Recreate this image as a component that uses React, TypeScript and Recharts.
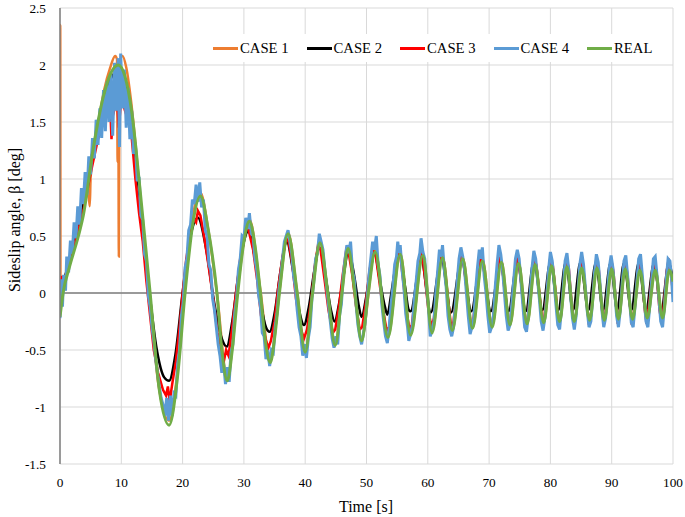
import React from 'react';
import { LineChart, Line, XAxis, YAxis, CartesianGrid, ReferenceLine, Legend, Label } from 'recharts';

const FONT = 'Liberation Serif';

const xTicks = [0, 10, 20, 30, 40, 50, 60, 70, 80, 90, 100];
const yTicks = [-1.5, -1, -0.5, 0, 0.5, 1, 1.5, 2, 2.5];

// [time s, sideslip deg]
const case1: [number, number][] = [
  [0, 0], [0.04, 2.35], [0.08, -0.1], [0.4, 0.05], [1.5, 0.25], [3.0, 0.55], [4.5, 0.95], [4.85, 0.76], [5.0, 1.02],
  [6.0, 1.4], [7.2, 1.78], [8.2, 1.98], [9.0, 2.08], [9.3, 2.05], [9.4, 1.15], [9.5, 2.0], [9.6, 0.32], [9.7, 2.02],
  [10.2, 2.08], [10.8, 1.98], [11.6, 1.68], [12.5, 1.2], [13.5, 0.6], [14.6, 0], [16.0, -0.78], [17.8, -1.12],
  [19.3, -0.62], [20.4, 0.05], [21.6, 0.65], [22.9, 0.88], [24.2, 0.55], [25.6, 0], [27.3, -0.75], [29.0, 0.05],
  [30.9, 0.65], [32.7, 0.02], [34.3, -0.6], [35.8, 0.02], [37.2, 0.53], [38.7, 0], [40.0, -0.5], [41.2, 0.02],
  [42.4, 0.45], [43.7, 0], [44.9, -0.45], [46.0, 0.02], [47.0, 0.4], [48.1, 0], [49.2, -0.4], [51.4, 0.37],
  [53.5, -0.38], [55.5, 0.35], [57.2, -0.36], [59.2, 0.34], [60.7, -0.34], [62.4, 0.32], [64.0, -0.32], [65.7, 0.31],
  [67.3, -0.3], [68.9, 0.3], [70.5, -0.29], [72.0, 0.28], [73.4, -0.28], [74.8, 0.27], [76.2, -0.27], [77.5, 0.26],
  [78.9, -0.26], [80.2, 0.25], [81.5, -0.25], [82.7, 0.24], [83.9, -0.25], [85.1, 0.23], [86.4, -0.24], [87.6, 0.23],
  [88.8, -0.24], [90.0, 0.22], [91.1, -0.23], [92.2, 0.22], [93.4, -0.23], [94.6, 0.21], [95.8, -0.22], [97.1, 0.21],
  [98.3, -0.22], [99.4, 0.21], [100, 0.1],
];

const case2: [number, number][] = [
  [0, -0.05], [0.2, 0.08], [0.5, 0.1], [1.5, 0.28], [3.0, 0.6], [5.0, 1.15], [7.0, 1.68], [8.5, 1.9], [9.5, 1.95],
  [10.5, 1.88], [11.5, 1.6], [12.5, 1.1], [14.2, 0.2], [15.8, -0.5], [17.0, -0.74], [17.8, -0.77], [18.8, -0.55], [20.0, 0],
  [21.3, 0.5], [22.5, 0.66], [23.8, 0.4], [25.2, -0.1], [26.4, -0.4], [27.2, -0.47], [28.1, -0.25], [29.0, 0.12],
  [30.0, 0.45], [30.8, 0.55], [31.8, 0.3], [32.8, -0.1], [33.6, -0.3], [34.2, -0.34], [35.0, -0.18], [36.0, 0.2],
  [37.0, 0.45], [38.0, 0.2], [39.0, -0.15], [39.8, -0.28], [40.6, -0.12], [41.5, 0.2], [42.3, 0.4], [43.3, 0.15],
  [44.2, -0.15], [44.8, -0.25], [45.5, -0.1], [46.4, 0.2], [47.0, 0.37], [48.0, 0.15], [48.7, -0.1], [49.2, -0.21],
  [49.9, -0.05], [50.7, 0.22], [51.3, 0.35], [52.2, 0.1], [53.0, -0.12], [53.4, -0.19], [54.0, -0.02], [54.8, 0.25],
  [55.4, 0.33], [56.3, 0.05], [56.9, -0.15], [57.2, -0.16], [58.9, 0.3], [60.5, -0.17], [62.2, 0.3], [63.8, -0.17],
  [65.5, 0.3], [67.1, -0.16], [68.7, 0.29], [70.3, -0.16], [71.8, 0.28], [73.2, -0.16], [74.6, 0.28], [76.0, -0.16],
  [77.3, 0.28], [78.7, -0.15], [80.0, 0.27], [81.3, -0.15], [82.5, 0.27], [83.7, -0.15], [84.9, 0.27], [86.2, -0.15],
  [87.4, 0.26], [88.6, -0.15], [89.8, 0.26], [90.9, -0.15], [92.0, 0.26], [93.2, -0.15], [94.4, 0.26], [95.6, -0.15],
  [96.9, 0.26], [98.1, -0.15], [99.3, 0.26], [100, 0.1],
];

const case3: [number, number][] = [
  [0, -0.05], [0.3, 0.15], [0.6, 0.05], [1.2, 0.22], [2.5, 0.45], [3.8, 0.72], [5.0, 1.05], [6.2, 1.35], [7.4, 1.6],
  [8.2, 1.62], [8.4, 1.35], [8.6, 1.55], [9.3, 1.7], [9.6, 1.45], [10.0, 1.72], [10.6, 1.6], [11.2, 1.5], [11.7, 1.36],
  [12.3, 1.0], [12.9, 0.7], [13.5, 0.45], [14.1, 0.1], [14.6, -0.15], [15.3, -0.5], [16.0, -0.7], [16.8, -0.85],
  [17.3, -0.9], [17.6, -0.82], [17.9, -0.95], [18.3, -0.8], [18.9, -0.6], [19.5, -0.3], [20.0, 0], [20.6, 0.3],
  [21.2, 0.5], [21.8, 0.65], [22.2, 0.62], [22.5, 0.72], [22.9, 0.68], [23.5, 0.5], [24.2, 0.25], [25.0, -0.05],
  [25.7, -0.35], [26.4, -0.52], [26.8, -0.58], [27.1, -0.5], [27.5, -0.55], [28.1, -0.3], [28.7, 0], [29.4, 0.3],
  [30.1, 0.5], [30.5, 0.6], [30.9, 0.52], [31.5, 0.38], [32.2, 0.1], [32.8, -0.2], [33.5, -0.4], [34.0, -0.48],
  [34.4, -0.42], [35.0, -0.25], [35.6, 0.05], [36.3, 0.32], [36.9, 0.48], [37.3, 0.45], [37.9, 0.25], [38.5, -0.05],
  [39.2, -0.3], [39.8, -0.4], [40.3, -0.32], [41.0, -0.05], [41.6, 0.25], [42.1, 0.42], [42.5, 0.38], [43.2, 0.1],
  [43.8, -0.15], [44.5, -0.35], [44.9, -0.32], [45.5, -0.12], [46.1, 0.15], [46.7, 0.38], [47.1, 0.35], [47.7, 0.15],
  [48.3, -0.12], [48.9, -0.32], [49.3, -0.3], [49.9, -0.08], [50.5, 0.2], [51.1, 0.37], [51.5, 0.33], [52.1, 0.1],
  [52.7, -0.15], [53.3, -0.33], [53.7, -0.3], [54.4, 0], [55.0, 0.3], [55.4, 0.38], [55.9, 0.15], [56.5, -0.15],
  [57.0, -0.32], [57.4, -0.28], [58.0, 0], [58.6, 0.3], [59.0, 0.38], [59.5, 0.15], [60.1, -0.15], [60.6, -0.3],
  [61.0, -0.22], [61.6, 0.1], [62.2, 0.36], [62.6, 0.28], [63.2, 0], [63.8, -0.3], [64.2, -0.25], [64.8, 0.05],
  [65.4, 0.33], [65.8, 0.28], [66.4, 0], [67.0, -0.28], [67.4, -0.25], [68.0, 0.05], [68.6, 0.32], [69.0, 0.28],
  [69.6, 0], [70.2, -0.3], [70.6, -0.24], [71.2, 0.08], [71.7, 0.32], [72.1, 0.25], [72.6, -0.02], [73.1, -0.28],
  [73.5, -0.22], [74.0, 0.05], [74.5, 0.32], [74.9, 0.25], [75.4, 0], [75.9, -0.3], [76.3, -0.22], [76.8, 0.05],
  [77.3, 0.3], [77.7, 0.25], [78.2, 0], [78.7, -0.28], [79.0, -0.22], [79.5, 0.05], [80.0, 0.32], [80.4, 0.24],
  [80.9, -0.02], [81.3, -0.28], [81.7, -0.2], [82.2, 0.08], [82.6, 0.3], [83.0, 0.22], [83.4, -0.05], [83.8, -0.28],
  [84.2, -0.18], [84.6, 0.08], [85.0, 0.3], [85.4, 0.2], [85.9, -0.08], [86.3, -0.28], [86.7, -0.15], [87.1, 0.1],
  [87.5, 0.3], [87.9, 0.2], [88.3, -0.08], [88.7, -0.28], [89.1, -0.12], [89.5, 0.12], [89.9, 0.3], [90.3, 0.18],
  [90.7, -0.1], [91.0, -0.27], [91.4, -0.12], [91.8, 0.12], [92.2, 0.3], [92.6, 0.15], [93.0, -0.12], [93.3, -0.28],
  [93.8, -0.1], [94.2, 0.15], [94.6, 0.3], [95.0, 0.12], [95.4, -0.15], [95.7, -0.27], [96.2, -0.05], [96.6, 0.18],
  [97.0, 0.3], [97.4, 0.12], [97.8, -0.15], [98.2, -0.27], [98.6, -0.05], [99.0, 0.2], [99.3, 0.3], [99.7, 0.15],
  [100, 0],
];

const case4: [number, number][] = [
  [0, -0.22], [0.2, 0.12], [0.4, -0.12], [0.6, 0.16], [0.9, 0.02], [1.1, 0.32], [1.4, 0.18], [1.7, 0.46], [2.0, 0.34],
  [2.3, 0.62], [2.6, 0.48], [2.9, 0.76], [3.2, 0.6], [3.5, 0.92], [3.8, 0.78], [4.1, 1.06], [4.4, 0.86], [4.7, 1.2],
  [5.0, 1.04], [5.3, 1.36], [5.6, 1.18], [5.9, 1.52], [6.2, 1.3], [6.5, 1.62], [6.8, 1.36], [7.1, 1.78], [7.4, 1.42],
  [7.7, 1.86], [8.0, 1.5], [8.3, 1.92], [8.6, 1.38], [8.9, 2.02], [9.2, 1.6], [9.5, 2.06], [9.7, 1.28], [9.9, 2.1],
  [10.2, 1.62], [10.5, 1.96], [10.8, 1.45], [11.1, 1.8], [11.4, 1.35], [11.7, 1.6], [12.0, 1.22], [12.3, 1.32],
  [12.6, 0.98], [12.9, 1.02], [13.2, 0.68], [13.5, 0.64], [13.8, 0.34], [14.1, 0.28], [14.4, -0.02], [14.7, -0.12],
  [15.0, -0.3], [15.3, -0.42], [15.6, -0.58], [15.9, -0.7], [16.2, -0.82], [16.5, -0.92], [16.8, -0.98], [17.1, -1.08],
  [17.4, -0.92], [17.7, -1.12], [18.0, -0.9], [18.3, -1.08], [18.6, -0.88], [18.9, -0.9], [19.2, -0.62], [19.5, -0.5],
  [19.8, -0.2], [20.1, -0.08], [20.4, 0.22], [20.7, 0.3], [21.0, 0.55], [21.3, 0.6], [21.6, 0.82], [21.9, 0.78],
  [22.2, 0.95], [22.5, 0.8], [22.8, 0.97], [23.1, 0.75], [23.4, 0.82], [23.7, 0.55], [24.0, 0.5], [24.3, 0.25],
  [24.6, 0.2], [24.9, -0.05], [25.2, -0.15], [25.5, -0.3], [25.8, -0.45], [26.1, -0.55], [26.4, -0.7], [26.7, -0.62],
  [27.0, -0.8], [27.3, -0.65], [27.6, -0.78], [27.9, -0.52], [28.2, -0.45], [28.5, -0.18], [28.8, -0.05], [29.1, 0.2],
  [29.4, 0.3], [29.7, 0.5], [30.0, 0.48], [30.3, 0.66], [30.6, 0.56], [30.9, 0.7], [31.2, 0.52], [31.5, 0.5],
  [31.8, 0.3], [32.1, 0.2], [32.4, -0.02], [32.7, -0.12], [33.0, -0.35], [33.3, -0.38], [33.6, -0.58], [33.9, -0.5],
  [34.2, -0.64], [34.5, -0.5], [34.8, -0.52], [35.1, -0.3], [35.4, -0.18], [35.7, 0.02], [36.0, 0.15], [36.3, 0.3],
  [36.6, 0.45], [36.9, 0.5], [37.2, 0.55], [37.5, 0.45], [37.8, 0.35], [38.1, 0.15], [38.4, 0.05], [38.7, -0.15],
  [39.0, -0.3], [39.3, -0.38], [39.6, -0.55], [39.9, -0.45], [40.2, -0.57], [40.5, -0.4], [40.8, -0.3], [41.1, -0.05],
  [41.4, 0.1], [41.7, 0.3], [42.0, 0.35], [42.3, 0.52], [42.6, 0.45], [42.9, 0.38], [43.2, 0.2], [43.5, 0.05],
  [43.8, -0.1], [44.1, -0.25], [44.4, -0.4], [44.7, -0.48], [45.0, -0.38], [45.3, -0.45], [45.6, -0.2], [45.9, -0.1],
  [46.2, 0.15], [46.5, 0.3], [46.8, 0.42], [47.1, 0.35], [47.4, 0.45], [47.7, 0.2], [48.0, 0.12], [48.3, -0.1],
  [48.6, -0.28], [48.9, -0.38], [49.2, -0.45], [49.5, -0.35], [49.8, -0.25], [50.1, -0.05], [50.4, 0.15], [50.7, 0.3],
  [51.0, 0.45], [51.3, 0.38], [51.6, 0.5], [51.9, 0.25], [52.2, 0.15], [52.5, -0.1], [52.8, -0.25], [53.1, -0.38],
  [53.4, -0.44], [53.7, -0.3], [54.0, -0.1], [54.3, 0.05], [54.6, 0.25], [54.9, 0.32], [55.1, 0.45], [55.3, 0.35],
  [55.5, 0.42], [55.8, 0.2], [56.1, 0.05], [56.4, -0.18], [56.7, -0.3], [56.9, -0.42], [57.2, -0.36], [57.5, -0.28],
  [57.8, -0.05], [58.1, 0.1], [58.4, 0.28], [58.7, 0.35], [58.9, 0.48], [59.2, 0.36], [59.5, 0.3], [59.8, 0.05],
  [60.1, -0.12], [60.4, -0.38], [60.7, -0.32], [61.0, -0.25], [61.3, 0], [61.6, 0.18], [61.9, 0.38], [62.2, 0.32],
  [62.4, 0.42], [62.7, 0.2], [63.0, 0.05], [63.3, -0.2], [63.6, -0.32], [63.9, -0.38], [64.2, -0.3], [64.5, -0.1],
  [64.8, 0.1], [65.1, 0.3], [65.4, 0.4], [65.7, 0.32], [66.0, 0.2], [66.3, 0], [66.6, -0.2], [66.9, -0.36],
  [67.2, -0.3], [67.5, -0.22], [67.8, 0.02], [68.1, 0.22], [68.4, 0.38], [68.7, 0.3], [68.9, 0.4], [69.2, 0.15],
  [69.5, 0], [69.8, -0.2], [70.1, -0.35], [70.4, -0.3], [70.7, -0.2], [71.0, 0.05], [71.3, 0.25], [71.6, 0.42],
  [71.9, 0.34], [72.2, 0.2], [72.5, 0], [72.8, -0.2], [73.1, -0.33], [73.4, -0.28], [73.7, -0.1], [74.0, 0.1],
  [74.3, 0.3], [74.6, 0.38], [74.9, 0.3], [75.2, 0.1], [75.5, -0.1], [75.8, -0.3], [76.1, -0.34], [76.4, -0.2],
  [76.7, 0], [77.0, 0.22], [77.3, 0.37], [77.6, 0.3], [77.9, 0.12], [78.2, -0.05], [78.5, -0.25], [78.8, -0.33],
  [79.1, -0.22], [79.4, -0.02], [79.7, 0.2], [80.0, 0.36], [80.3, 0.28], [80.6, 0.1], [80.9, -0.1], [81.2, -0.28],
  [81.5, -0.32], [81.8, -0.15], [82.1, 0.05], [82.4, 0.28], [82.7, 0.35], [83.0, 0.2], [83.3, -0.02], [83.6, -0.22],
  [83.9, -0.32], [84.2, -0.2], [84.5, 0.02], [84.8, 0.25], [85.1, 0.36], [85.4, 0.25], [85.7, 0.05], [86.0, -0.15],
  [86.3, -0.3], [86.6, -0.25], [86.9, -0.05], [87.2, 0.18], [87.5, 0.34], [87.8, 0.27], [88.1, 0.08], [88.4, -0.15],
  [88.7, -0.3], [89.0, -0.22], [89.3, 0], [89.6, 0.22], [89.9, 0.33], [90.2, 0.22], [90.5, 0.02], [90.8, -0.2],
  [91.1, -0.3], [91.4, -0.15], [91.7, 0.08], [92.0, 0.28], [92.3, 0.33], [92.6, 0.15], [92.9, -0.05], [93.2, -0.26],
  [93.5, -0.3], [93.8, -0.12], [94.1, 0.1], [94.4, 0.3], [94.7, 0.34], [95.0, 0.15], [95.3, -0.05], [95.6, -0.25],
  [95.9, -0.3], [96.2, -0.12], [96.5, 0.1], [96.8, 0.3], [97.1, 0.32], [97.4, 0.15], [97.7, -0.05], [98.0, -0.25],
  [98.3, -0.3], [98.6, -0.12], [98.9, 0.12], [99.2, 0.3], [99.5, 0.28], [99.8, 0.1], [100, -0.08],
];

const real: [number, number][] = [
  [0, -0.21], [0.5, 0], [1.5, 0.22], [3.0, 0.5], [3.8, 0.68], [5.4, 1.26], [7.1, 1.73], [8.3, 1.93], [9.5, 2.0],
  [10.6, 1.9], [11.7, 1.59], [13.0, 0.94], [14.7, 0], [16.2, -0.85], [17.8, -1.16], [19.2, -0.72], [20.4, 0],
  [21.7, 0.62], [22.9, 0.85], [24.2, 0.55], [25.6, 0], [26.4, -0.5], [27.3, -0.77], [28.1, -0.5], [29.0, 0],
  [30.0, 0.45], [30.9, 0.63], [31.8, 0.42], [32.7, 0], [33.5, -0.42], [34.3, -0.61], [35.0, -0.4], [35.8, 0],
  [37.2, 0.52], [38.7, 0], [40.0, -0.52], [41.2, 0], [42.4, 0.44], [43.7, 0], [44.9, -0.46], [46.0, 0], [47.0, 0.39],
  [48.1, 0], [49.2, -0.42], [50.3, 0], [51.4, 0.36], [53.5, -0.39], [55.5, 0.34], [57.2, -0.37], [59.2, 0.33],
  [60.7, -0.35], [62.4, 0.31], [64.0, -0.33], [65.7, 0.3], [67.3, -0.31], [68.9, 0.28], [70.5, -0.3], [72.0, 0.27],
  [73.4, -0.28], [74.8, 0.26], [76.2, -0.27], [77.5, 0.25], [78.9, -0.26], [80.2, 0.24], [81.5, -0.25], [82.7, 0.23],
  [83.9, -0.25], [85.1, 0.22], [86.4, -0.24], [87.6, 0.22], [88.8, -0.24], [90.0, 0.21], [91.1, -0.23], [92.2, 0.21],
  [93.4, -0.23], [94.6, 0.2], [95.8, -0.22], [97.1, 0.2], [98.3, -0.22], [99.4, 0.2], [100, 0.1],
];

const series = [
  { name: 'CASE 1', color: '#ED7D31', pts: case1, curve: 'monotone', width: 2.5 },
  { name: 'CASE 2', color: '#000000', pts: case2, curve: 'monotone', width: 2.5 },
  { name: 'CASE 3', color: '#FF0000', pts: case3, curve: 'linear', width: 2.5 },
  { name: 'CASE 4', color: '#5B9BD5', pts: case4, curve: 'linear', width: 3 },
  { name: 'REAL', color: '#70AD47', pts: real, curve: 'monotone', width: 3 },
];

const toRows = (pts: [number, number][]) => pts.map(([t, v]) => ({ t, v }));

const renderLegend = () => (
  <div style={{ background: '#fff', height: 28, display: 'flex', alignItems: 'center', paddingLeft: 8, fontFamily: FONT, fontSize: 14.7, color: '#000' }}>
    {series.map((s) => (
      <div key={s.name} style={{ width: 93.5, display: 'flex', alignItems: 'center', flexShrink: 0 }}>
        <span style={{ display: 'inline-block', width: 25, height: 3, background: s.color, marginRight: 2 }} />
        <span style={{ fontFamily: FONT }}>{s.name}</span>
      </div>
    ))}
  </div>
);

export default function App() {
  const tickStyle = { fill: '#000', fontSize: 13.3, fontFamily: FONT };
  return (
    <div style={{ position: 'absolute', left: 0, top: 0, width: 685, height: 517, background: '#fff', fontFamily: FONT }}>
      <LineChart width={685} height={517} margin={{ top: 8, right: 12, left: 0, bottom: 0 }} style={{ fontFamily: FONT }}>
        <CartesianGrid stroke="#d9d9d9" strokeWidth={1} />
        <XAxis
          dataKey="t"
          type="number"
          domain={[0, 100]}
          ticks={xTicks}
          axisLine={false}
          tickLine={false}
          tick={tickStyle}
          tickMargin={8}
          height={53}
          allowDataOverflow
        >
          <Label
            content={() => (
              <text x={366} y={506} textAnchor="middle" dominantBaseline="central" fontFamily={FONT} fontSize={16} fill="#000">
                Time [s]
              </text>
            )}
          />
        </XAxis>
        <YAxis
          type="number"
          domain={[-1.5, 2.5]}
          ticks={yTicks}
          axisLine={{ stroke: '#7f7f7f', strokeWidth: 1.5 }}
          tickLine={false}
          tick={tickStyle}
          tickMargin={8}
          width={60}
          allowDataOverflow
        >
          <Label
            content={() => (
              <text x={14} y={220} transform="rotate(-90 14 220)" textAnchor="middle" dominantBaseline="central" fontFamily={FONT} fontSize={16} fill="#000">
                Sideslip angle, β [deg]
              </text>
            )}
          />
        </YAxis>
        <ReferenceLine y={0} stroke="#7f7f7f" strokeWidth={1.5} />
        {series.map((s) => (
          <Line
            key={s.name}
            name={s.name}
            data={toRows(s.pts)}
            dataKey="v"
            type={s.curve as any}
            stroke={s.color}
            strokeWidth={s.width}
            dot={false}
            activeDot={false}
            isAnimationActive={false}
          />
        ))}
        <Legend
          layout="horizontal"
          verticalAlign="middle"
          align="center"
          content={renderLegend}
          wrapperStyle={{ position: 'absolute', top: 34, left: 205, width: 462, height: 28 }}
        />
      </LineChart>
    </div>
  );
}
